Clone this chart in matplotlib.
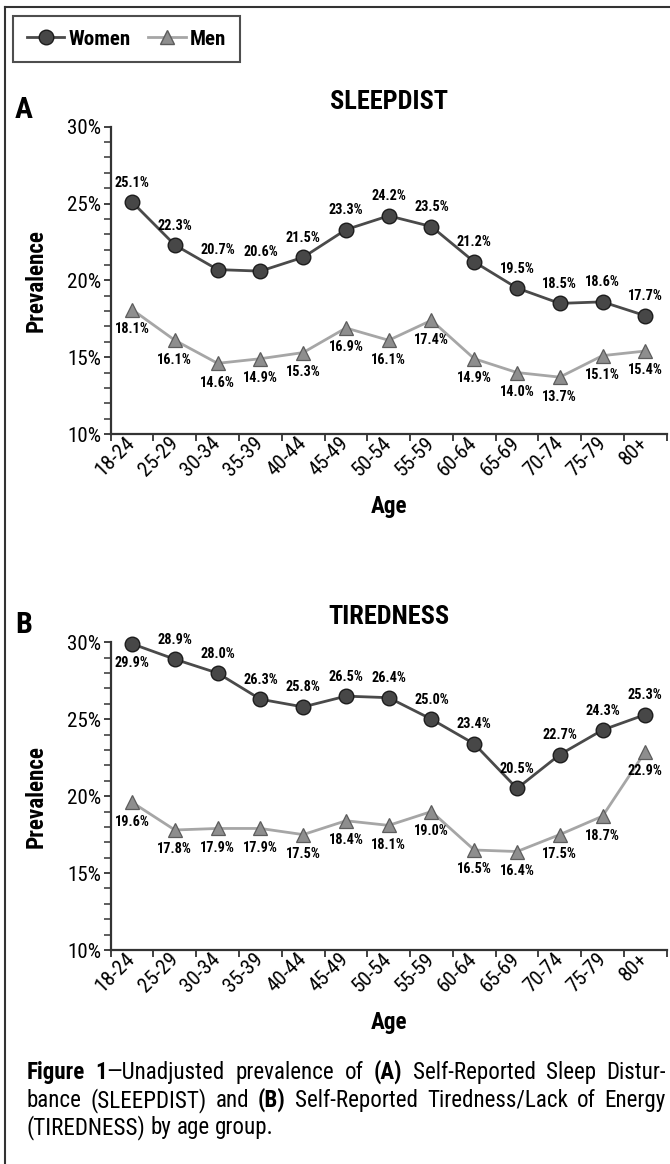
import numpy as np
import matplotlib
matplotlib.use("Agg")
import matplotlib.pyplot as plt
from matplotlib.lines import Line2D
from matplotlib import font_manager as fm

# data
ages = ["18-24", "25-29", "30-34", "35-39", "40-44", "45-49", "50-54",
        "55-59", "60-64", "65-69", "70-74", "75-79", "80+"]
sleep_women = [25.1, 22.3, 20.7, 20.6, 21.5, 23.3, 24.2, 23.5, 21.2, 19.5, 18.5, 18.6, 17.7]
sleep_men = [18.1, 16.1, 14.6, 14.9, 15.3, 16.9, 16.1, 17.4, 14.9, 14.0, 13.7, 15.1, 15.4]
tired_women = [29.9, 28.9, 28.0, 26.3, 25.8, 26.5, 26.4, 25.0, 23.4, 20.5, 22.7, 24.3, 25.3]
tired_men = [19.6, 17.8, 17.9, 17.9, 17.5, 18.4, 18.1, 19.0, 16.5, 16.4, 17.5, 18.7, 22.9]

caption = [
    "**Figure** **1**—Unadjusted prevalence of **(A)** Self-Reported Sleep Distur-",
    "bance (SLEEPDIST) and **(B)** Self-Reported Tiredness/Lack of Energy",
    "(TIREDNESS) by age group.",
]

FONT = "Liberation Sans"
for cand in ("Roboto Condensed", "Pragati Narrow", "Liberation Sans Narrow"):
    try:
        fm.findfont(cand, fallback_to_default=False)
        FONT = cand
        break
    except ValueError:
        pass
plt.rcParams["font.family"] = [FONT, "DejaVu Sans"]

W_LINE, W_FACE, W_EDGE = "#4a4a4a", "#474747", "#1c1c1c"
M_LINE, M_FACE, M_EDGE = "#a6a6a6", "#8e8e8e", "#5c5c5c"
AX_COL = "#333333"

FW, FH = 670, 1164
fig = plt.figure(figsize=(FW / 100, FH / 100), dpi=100)
renderer = fig.canvas.get_renderer()


def fx(px):
    return px / FW


def fy(py):
    return 1 - py / FH


def text_w(s, size, bold):
    t = fig.text(0, 0, s, fontsize=size, fontweight="bold" if bold else "normal")
    w = t.get_window_extent(renderer).width
    t.remove()
    return w


def fit(s, target_px, bold):
    return 20 * target_px / text_w(s, 20, bold)


TICK_SIZE = fit("25%", 34, False)
LABEL_SIZE = fit("25.1%", 35, True)
AXLAB_SIZE = fit("Prevalence", 103, True)
TITLE_SIZE = fit("TIREDNESS", 122, True)
LEG_SIZE = fit("Women", 62, True)
LETTER_SIZE = fit("A", 18, True)
CAP_SIZE = fit("(TIREDNESS) by age group.", 247, False)


def panel(top, bottom, women, men, title, letter, women_below=()):
    ax = fig.add_axes([fx(110.7), fy(bottom), fx(666.7) - fx(110.7), fy(top) - fy(bottom)])
    x = np.arange(len(ages))
    ax.plot(x, men, color=M_LINE, lw=2, marker="^", ms=10.5, mfc=M_FACE,
            mec=M_EDGE, mew=0.9, zorder=2, clip_on=False)
    ax.plot(x, women, color=W_LINE, lw=2, marker="o", ms=10.5, mfc=W_FACE,
            mec=W_EDGE, mew=1.0, zorder=3, clip_on=False)
    for i, v in enumerate(women):
        dy = -14 if i in women_below else 14
        ax.annotate(f"{v:.1f}%", (i, v), xytext=(0, dy), textcoords="offset points",
                    ha="center", va="center", fontsize=LABEL_SIZE, fontweight="bold")
    for i, v in enumerate(men):
        ax.annotate(f"{v:.1f}%", (i, v), xytext=(0, -14), textcoords="offset points",
                    ha="center", va="center", fontsize=LABEL_SIZE, fontweight="bold")

    ax.set_xlim(-0.5, len(ages) - 0.5)
    ax.set_ylim(10, 30)
    ax.set_yticks(np.arange(10, 31, 5))
    ax.set_yticklabels([f"{t}%" for t in range(10, 31, 5)])
    ax.set_yticks(np.arange(10, 31, 1), minor=True)
    ax.set_xticks(x)
    ax.set_xticklabels(ages)
    ax.set_xticks(np.arange(-0.5, len(ages), 1), minor=True)

    for s in ("top", "right"):
        ax.spines[s].set_visible(False)
    for s in ("left", "bottom"):
        ax.spines[s].set_color(AX_COL)
        ax.spines[s].set_linewidth(1.6)

    ax.tick_params(axis="y", which="major", direction="out", length=5, width=1.3,
                   color=AX_COL, labelsize=TICK_SIZE, pad=2)
    ax.tick_params(axis="y", which="minor", direction="out", length=5, width=1.1, color=AX_COL)
    ax.tick_params(axis="x", which="major", length=0, labelsize=TICK_SIZE, pad=4.5)
    ax.tick_params(axis="x", which="minor", direction="out", length=5, width=1.3, color=AX_COL)
    for lbl in ax.get_xticklabels():
        lbl.set(rotation=45, ha="right", va="center", rotation_mode="anchor")

    mid_x = (110.7 + 666.7) / 2
    fig.text(fx(mid_x), fy(top - 25), title, ha="center", va="center",
             fontsize=TITLE_SIZE, fontweight="bold")
    fig.text(fx(24), fy(top - 17), letter, ha="center", va="center",
             fontsize=LETTER_SIZE, fontweight="bold")
    fig.text(fx(36), fy((top + bottom) / 2), "Prevalence", rotation=90, ha="center",
             va="center", fontsize=AXLAB_SIZE, fontweight="bold")
    fig.text(fx(mid_x), fy(bottom + 73), "Age", ha="center", va="center",
             fontsize=AXLAB_SIZE, fontweight="bold")
    return ax


panel(126.7, 434, sleep_women, sleep_men, "SLEEPDIST", "A")
panel(642.3, 950, tired_women, tired_men, "TIREDNESS", "B", women_below=(0,))

# legend
handles = [
    Line2D([], [], color=W_LINE, lw=2, marker="o", ms=10.5, mfc=W_FACE, mec=W_EDGE),
    Line2D([], [], color=M_LINE, lw=2, marker="^", ms=10.5, mfc=M_FACE, mec=M_EDGE),
]
leg = fig.legend(handles, ["Women", "Men"], loc="upper left",
                 bbox_to_anchor=(fx(13), fy(16)), ncol=2, frameon=True,
                 fancybox=False, edgecolor="#222222",
                 prop=dict(family=[FONT, "DejaVu Sans"], weight="bold", size=LEG_SIZE),
                 handlelength=1.8, handletextpad=0.2, columnspacing=0.8,
                 borderpad=0.65, borderaxespad=0)
leg.get_frame().set_linewidth(1.5)

# frame lines (left and top)
fig.add_artist(Line2D([fx(5), fx(5)], [0, fy(7)], transform=fig.transFigure,
                      color=AX_COL, lw=1.5))
fig.add_artist(Line2D([fx(5), 1], [fy(7), fy(7)], transform=fig.transFigure,
                      color=AX_COL, lw=1.5))

# justified caption
left_px, right_px = 26.5, 666
baselines = [1079, 1107, 1134]


def word_parts(word):
    parts = word.split("**")
    return [(p, i % 2 == 1) for i, p in enumerate(parts) if p]


space_w = text_w("a a", CAP_SIZE, False) - text_w("aa", CAP_SIZE, False)
for li, line in enumerate(caption):
    words = [word_parts(w) for w in line.split(" ")]
    widths = [sum(text_w(p, CAP_SIZE, b) for p, b in w) for w in words]
    last = li == len(caption) - 1
    gap = space_w if last else (right_px - left_px - sum(widths)) / (len(words) - 1)
    xpos = left_px
    for w, ww in zip(words, widths):
        xp = xpos
        for p, b in w:
            fig.text(fx(xp), fy(baselines[li]), p, fontsize=CAP_SIZE,
                     fontweight="bold" if b else "normal", va="baseline", ha="left")
            xp += text_w(p, CAP_SIZE, b)
        xpos += ww + gap

fig.savefig("out.png", dpi=100)
